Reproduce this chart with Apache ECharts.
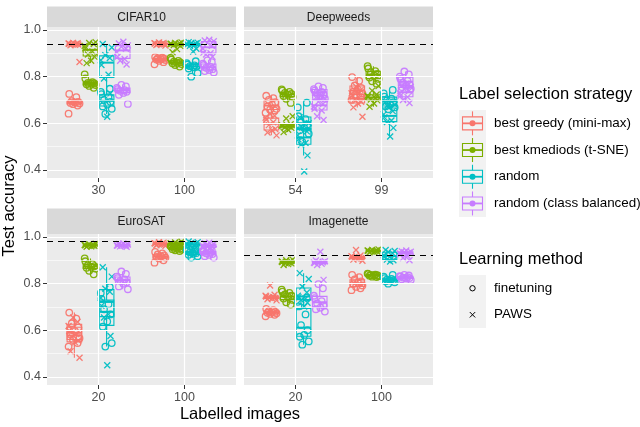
<!DOCTYPE html>
<html><head><meta charset="utf-8">
<script src="https://cdn.jsdelivr.net/npm/echarts@6/dist/echarts.min.js"></script>
<style>html,body{margin:0;padding:0;background:#fff}#c{width:640px;height:427px}</style>
</head><body><div id="c"></div>
<script>
// ---------- data ----------
const panels = ['CIFAR10', 'Deepweeds', 'EuroSAT', 'Imagenette'];
const categories = [['30', '100'], ['54', '99'], ['20', '100'], ['20', '100']];
const strategies = ['best greedy (mini-max)', 'best kmediods (t-SNE)', 'random', 'random (class balanced)'];
const methods = ['finetuning', 'PAWS'];
const baselines = [0.94, 0.945, 0.982, 0.916];
const yTicks = [0.4, 0.6, 0.8, 1.0];
const yMinorGrid = [0.5, 0.7, 0.9];

// each array: [cat1 s0..s3, cat2 s0..s3], values per run
const cifar10Finetuning = [
 [0.641,0.676,0.682,0.685,0.687,0.689,0.692,0.695,0.712,0.726],
 [0.752,0.760,0.764,0.767,0.769,0.771,0.773,0.776,0.792,0.810],
 [0.640,0.662,0.672,0.680,0.692,0.700,0.712,0.725,0.735,0.748],
 [0.683,0.722,0.730,0.735,0.739,0.742,0.746,0.752,0.758,0.765],
 [0.853,0.862,0.868,0.871,0.873,0.875,0.877,0.879,0.881,0.884],
 [0.843,0.850,0.854,0.857,0.859,0.861,0.864,0.868,0.873,0.880],
 [0.800,0.815,0.835,0.840,0.843,0.845,0.848,0.852,0.858,0.866],
 [0.818,0.824,0.828,0.832,0.838,0.842,0.850,0.856,0.862,0.870]
];
const cifar10Paws = [
 [0.863,0.935,0.937,0.938,0.939,0.940,0.941,0.942,0.943,0.945],
 [0.858,0.868,0.886,0.895,0.908,0.922,0.932,0.940,0.944,0.948],
 [0.628,0.728,0.792,0.808,0.850,0.870,0.880,0.892,0.925,0.940],
 [0.852,0.868,0.876,0.885,0.905,0.920,0.928,0.934,0.942,0.950],
 [0.933,0.936,0.938,0.939,0.940,0.941,0.942,0.943,0.945,0.947],
 [0.905,0.918,0.932,0.936,0.938,0.940,0.941,0.943,0.945,0.947],
 [0.908,0.920,0.932,0.936,0.938,0.940,0.942,0.944,0.946,0.948],
 [0.885,0.895,0.900,0.903,0.920,0.932,0.945,0.952,0.955,0.958]
];
const deepweedsFinetuning = [
 [0.645,0.655,0.658,0.662,0.672,0.680,0.690,0.700,0.708,0.718],
 [0.687,0.705,0.713,0.717,0.722,0.726,0.730,0.735,0.740,0.745],
 [0.520,0.555,0.570,0.580,0.595,0.605,0.618,0.630,0.668,0.688],
 [0.705,0.712,0.718,0.724,0.730,0.735,0.740,0.746,0.752,0.758],
 [0.700,0.712,0.722,0.728,0.736,0.744,0.752,0.762,0.782,0.798],
 [0.770,0.780,0.790,0.796,0.805,0.812,0.818,0.824,0.835,0.845],
 [0.660,0.668,0.672,0.680,0.690,0.698,0.706,0.714,0.728,0.743],
 [0.748,0.755,0.760,0.766,0.774,0.782,0.790,0.800,0.810,0.822]
];
const deepweedsPaws = [
 [0.548,0.560,0.570,0.575,0.592,0.604,0.615,0.624,0.632,0.640],
 [0.562,0.572,0.580,0.583,0.586,0.589,0.592,0.596,0.620,0.630],
 [0.393,0.462,0.508,0.515,0.530,0.548,0.565,0.582,0.600,0.625],
 [0.614,0.630,0.655,0.662,0.672,0.682,0.692,0.703,0.710,0.718],
 [0.628,0.668,0.685,0.692,0.702,0.710,0.718,0.728,0.742,0.758],
 [0.671,0.685,0.698,0.702,0.708,0.713,0.718,0.723,0.740,0.760],
 [0.543,0.580,0.605,0.612,0.625,0.638,0.652,0.670,0.680,0.690],
 [0.687,0.700,0.712,0.718,0.728,0.738,0.746,0.756,0.762,0.770]
];
const eurosatFinetuning = [
 [0.530,0.545,0.558,0.566,0.582,0.596,0.612,0.630,0.650,0.676],
 [0.840,0.855,0.864,0.868,0.872,0.875,0.879,0.884,0.896,0.908],
 [0.530,0.545,0.615,0.638,0.668,0.690,0.712,0.735,0.760,0.785],
 [0.776,0.788,0.800,0.806,0.812,0.818,0.824,0.830,0.842,0.852],
 [0.890,0.900,0.908,0.912,0.915,0.918,0.921,0.925,0.930,0.936],
 [0.940,0.943,0.946,0.948,0.950,0.952,0.954,0.956,0.958,0.962],
 [0.912,0.918,0.924,0.928,0.931,0.934,0.937,0.940,0.944,0.948],
 [0.912,0.918,0.923,0.927,0.930,0.933,0.936,0.939,0.942,0.946]
];
const eurosatPaws = [
 [0.482,0.510,0.548,0.556,0.570,0.584,0.598,0.618,0.636,0.655],
 [0.958,0.960,0.962,0.963,0.964,0.965,0.966,0.967,0.969,0.971],
 [0.450,0.575,0.655,0.668,0.705,0.738,0.765,0.778,0.830,0.870],
 [0.958,0.960,0.962,0.963,0.964,0.965,0.966,0.968,0.970,0.972],
 [0.962,0.965,0.967,0.968,0.970,0.971,0.972,0.974,0.976,0.978],
 [0.958,0.962,0.965,0.967,0.969,0.971,0.973,0.975,0.977,0.980],
 [0.952,0.957,0.961,0.964,0.967,0.970,0.972,0.975,0.978,0.981],
 [0.945,0.950,0.955,0.958,0.961,0.964,0.967,0.970,0.973,0.976]
];
const imagenetteFinetuning = [
 [0.660,0.666,0.670,0.673,0.675,0.677,0.679,0.682,0.686,0.692],
 [0.710,0.720,0.730,0.736,0.742,0.748,0.754,0.760,0.766,0.774],
 [0.538,0.552,0.572,0.580,0.600,0.622,0.668,0.702,0.722,0.740],
 [0.680,0.690,0.697,0.705,0.715,0.725,0.738,0.748,0.780,0.798],
 [0.772,0.780,0.786,0.792,0.798,0.804,0.810,0.818,0.828,0.838],
 [0.828,0.830,0.832,0.834,0.835,0.836,0.837,0.839,0.841,0.843],
 [0.800,0.806,0.810,0.813,0.815,0.817,0.820,0.824,0.830,0.838],
 [0.816,0.819,0.822,0.824,0.826,0.828,0.830,0.832,0.835,0.838]
];
const imagenettePaws = [
 [0.728,0.733,0.736,0.739,0.741,0.743,0.745,0.748,0.752,0.792],
 [0.880,0.884,0.887,0.889,0.891,0.893,0.895,0.897,0.900,0.903],
 [0.702,0.718,0.730,0.736,0.742,0.748,0.762,0.788,0.820,0.845],
 [0.816,0.880,0.885,0.888,0.890,0.892,0.894,0.896,0.899,0.937],
 [0.898,0.903,0.906,0.909,0.911,0.913,0.915,0.918,0.921,0.944],
 [0.934,0.936,0.938,0.939,0.940,0.941,0.942,0.943,0.945,0.947],
 [0.895,0.900,0.903,0.908,0.915,0.922,0.930,0.936,0.940,0.944],
 [0.900,0.910,0.920,0.926,0.930,0.933,0.935,0.937,0.939,0.942]
];
const panelData = [
  [cifar10Finetuning, cifar10Paws],
  [deepweedsFinetuning, deepweedsPaws],
  [eurosatFinetuning, eurosatPaws],
  [imagenetteFinetuning, imagenettePaws]
];

// ---------- style / layout ----------
const FONT = '"Liberation Sans", Arial, Helvetica, sans-serif';
const colors = ['#F8766D', '#7CAE00', '#00BFC4', '#C77CFF'];
const dodge = [-0.28125, -0.09375, 0.09375, 0.28125];
const jitterPattern = [-0.9, 0.5, -0.2, 0.8, -0.6, 0.1, 0.6, -0.4, 0.3, -0.8];
const JW = 0.075, BW = 0.17;
const gridPos = [[47, 27], [244, 27], [47, 234], [244, 234]];
const GW = 189, GH = 151;
const crossPath = 'path://M0,0L10,10M10,0L0,10';

function quantile(s, p) {
  const h = (s.length - 1) * p, lo = Math.floor(h), hi = Math.min(lo + 1, s.length - 1);
  return s[lo] + (h - lo) * (s[hi] - s[lo]);
}
function boxStats(vals) {
  const s = [...vals].sort((a, b) => a - b);
  const q1 = quantile(s, 0.25), med = quantile(s, 0.5), q3 = quantile(s, 0.75);
  const iqr = q3 - q1;
  const lo = s.find(v => v >= q1 - 1.5 * iqr);
  const hi = [...s].reverse().find(v => v <= q3 + 1.5 * iqr);
  return [lo, q1, med, q3, hi];
}
function renderBox(params, api) {
  const x = api.value(0), c = colors[api.value(6)];
  const pLo = api.coord([x, api.value(1)]), pQ1 = api.coord([x, api.value(2)]);
  const pMed = api.coord([x, api.value(3)]), pQ3 = api.coord([x, api.value(4)]);
  const pHi = api.coord([x, api.value(5)]);
  const w = api.size([BW, 0])[0];
  const st = { stroke: c, fill: 'rgba(0,0,0,0)', lineWidth: 1.1 };
  return { type: 'group', children: [
    { type: 'line', shape: { x1: pLo[0], y1: pLo[1], x2: pQ1[0], y2: pQ1[1] }, style: st },
    { type: 'line', shape: { x1: pQ3[0], y1: pQ3[1], x2: pHi[0], y2: pHi[1] }, style: st },
    { type: 'rect', shape: { x: pQ3[0] - w / 2, y: pQ3[1], width: w, height: Math.max(pQ1[1] - pQ3[1], 0.5) }, style: st },
    { type: 'line', shape: { x1: pMed[0] - w / 2, y1: pMed[1], x2: pMed[0] + w / 2, y2: pMed[1] }, style: Object.assign({}, st, { lineWidth: 2 }) }
  ]};
}

const series = [];
panelData.forEach((pd, p) => {
  const gridLines = [
    ...yTicks.map(v => ({ yAxis: v, lineStyle: { color: '#fff', width: 1.2, type: 'solid' } })),
    ...yMinorGrid.map(v => ({ yAxis: v, lineStyle: { color: '#fff', width: 0.6, type: 'solid' } })),
    ...[1, 2].map(v => ({ xAxis: v, lineStyle: { color: '#fff', width: 1.2, type: 'solid' } }))
  ];
  series.push({ type: 'scatter', xAxisIndex: p, yAxisIndex: p, data: [], silent: true, z: 1,
    markLine: { silent: true, symbol: ['none', 'none'], label: { show: false }, animation: false, data: gridLines } });
  series.push({ type: 'scatter', xAxisIndex: p, yAxisIndex: p, data: [], silent: true, z: 2,
    markLine: { silent: true, symbol: ['none', 'none'], label: { show: false }, animation: false,
      data: [{ yAxis: baselines[p], lineStyle: { color: '#000', width: 1.2, type: [6, 5] } }] } });
  const boxes = [];
  pd.forEach((groups, m) => {
    groups.forEach((vals, g) => {
      const c = Math.floor(g / 4), s = g % 4;
      boxes.push([c + 1 + dodge[s], ...boxStats(vals), s]);
    });
  });
  series.push({ type: 'custom', xAxisIndex: p, yAxisIndex: p, renderItem: renderBox, data: boxes,
    encode: { x: 0, y: [1, 2, 3, 4, 5] }, silent: true, z: 3, clip: false });
  for (let s = 0; s < 4; s++) {
    for (let m = 0; m < 2; m++) {
      const pts = [];
      for (let c = 0; c < 2; c++) {
        pd[m][c * 4 + s].forEach((v, i) => {
          pts.push([c + 1 + dodge[s] + jitterPattern[(i + m * 3 + s) % 10] * JW, v]);
        });
      }
      series.push({ type: 'scatter', name: methods[m], xAxisIndex: p, yAxisIndex: p, data: pts, silent: true, z: 4,
        symbol: m === 0 ? 'circle' : crossPath, symbolSize: m === 0 ? 6.5 : 6,
        itemStyle: { color: 'rgba(0,0,0,0)', borderColor: colors[s], borderWidth: 1.3, opacity: 0.95 } });
    }
  }
});

// ---------- graphics: strips, titles, legend ----------
const graphics = [];
gridPos.forEach((g, p) => {
  const top = p < 2 ? 6.5 : 208.5;
  graphics.push({ type: 'rect', shape: { x: g[0], y: top, width: GW, height: g[1] - top }, style: { fill: '#D9D9D9' } });
  graphics.push({ type: 'text', x: g[0] + GW / 2, y: (top + g[1]) / 2 + 0.5,
    style: { text: panels[p], font: '12px ' + FONT, fill: '#1A1A1A', textAlign: 'center', textVerticalAlign: 'middle' } });
});
graphics.push({ type: 'text', x: 9, y: 206, rotation: Math.PI / 2,
  style: { text: 'Test accuracy', font: '16.5px ' + FONT, fill: '#000', textAlign: 'center', textVerticalAlign: 'middle' } });
graphics.push({ type: 'text', x: 240, y: 414,
  style: { text: 'Labelled images', font: '16.5px ' + FONT, fill: '#000', textAlign: 'center', textVerticalAlign: 'middle' } });

graphics.push({ type: 'text', x: 459, y: 94,
  style: { text: 'Label selection strategy', font: '16.5px ' + FONT, fill: '#000', textAlign: 'left', textVerticalAlign: 'middle' } });
graphics.push({ type: 'rect', shape: { x: 459, y: 110, width: 27, height: 107 }, style: { fill: '#F2F2F2' } });
strategies.forEach((name, i) => {
  const cy = 110 + 26.7 * i + 13.35, cx = 472.5, c = colors[i];
  graphics.push({ type: 'line', shape: { x1: cx, y1: cy - 12, x2: cx, y2: cy + 12 }, style: { stroke: c, lineWidth: 1.1 } });
  graphics.push({ type: 'rect', shape: { x: cx - 10, y: cy - 6.5, width: 20, height: 13 }, style: { stroke: c, fill: '#F2F2F2', lineWidth: 1.1 } });
  graphics.push({ type: 'line', shape: { x1: cx - 10, y1: cy, x2: cx + 10, y2: cy }, style: { stroke: c, lineWidth: 1.8 } });
  graphics.push({ type: 'circle', shape: { cx: cx, cy: cy, r: 3 }, style: { fill: c } });
  graphics.push({ type: 'text', x: 494, y: cy,
    style: { text: name, font: '13.4px ' + FONT, fill: '#000', textAlign: 'left', textVerticalAlign: 'middle' } });
});
graphics.push({ type: 'text', x: 459, y: 259,
  style: { text: 'Learning method', font: '16.5px ' + FONT, fill: '#000', textAlign: 'left', textVerticalAlign: 'middle' } });
graphics.push({ type: 'rect', shape: { x: 459, y: 275, width: 27, height: 53 }, style: { fill: '#F2F2F2' } });
methods.forEach((name, i) => {
  const cy = 275 + 26.5 * i + 13.25, cx = 472.5;
  if (i === 0) {
    graphics.push({ type: 'circle', shape: { cx: cx, cy: cy, r: 2.7 }, style: { stroke: '#000', fill: 'rgba(0,0,0,0)', lineWidth: 1 } });
  } else {
    graphics.push({ type: 'line', shape: { x1: cx - 2.7, y1: cy - 2.7, x2: cx + 2.7, y2: cy + 2.7 }, style: { stroke: '#000', lineWidth: 1 } });
    graphics.push({ type: 'line', shape: { x1: cx - 2.7, y1: cy + 2.7, x2: cx + 2.7, y2: cy - 2.7 }, style: { stroke: '#000', lineWidth: 1 } });
  }
  graphics.push({ type: 'text', x: 494, y: cy,
    style: { text: name, font: '13.4px ' + FONT, fill: '#000', textAlign: 'left', textVerticalAlign: 'middle' } });
});

const option = {
  animation: false,
  grid: gridPos.map(g => ({ left: g[0], top: g[1], width: GW, height: GH, show: true,
    backgroundColor: '#EBEBEB', borderWidth: 0 })),
  xAxis: gridPos.map((g, p) => ({ type: 'value', gridIndex: p, min: 0.4, max: 2.6,
    axisLine: { show: false }, splitLine: { show: false },
    axisTick: { show: true, customValues: [1, 2], length: 4, lineStyle: { color: '#333', width: 1 } },
    axisLabel: { customValues: [1, 2], formatter: v => categories[p][Math.round(v) - 1],
      color: '#4D4D4D', fontSize: 12.5, fontFamily: FONT, margin: 6 } })),
  yAxis: gridPos.map((g, p) => ({ type: 'value', gridIndex: p, min: 0.365, max: 1.013,
    axisLine: { show: false }, splitLine: { show: false },
    axisTick: { show: p % 2 === 0, customValues: yTicks, length: 4, lineStyle: { color: '#333', width: 1 } },
    axisLabel: { show: p % 2 === 0, customValues: yTicks, formatter: v => v.toFixed(1),
      color: '#4D4D4D', fontSize: 12.5, fontFamily: FONT, margin: 6 } })),
  series: series,
  graphic: graphics
};
const chart = echarts.init(document.getElementById('c'), null, { renderer: 'canvas' });
chart.setOption(option);
</script>
</body></html>
